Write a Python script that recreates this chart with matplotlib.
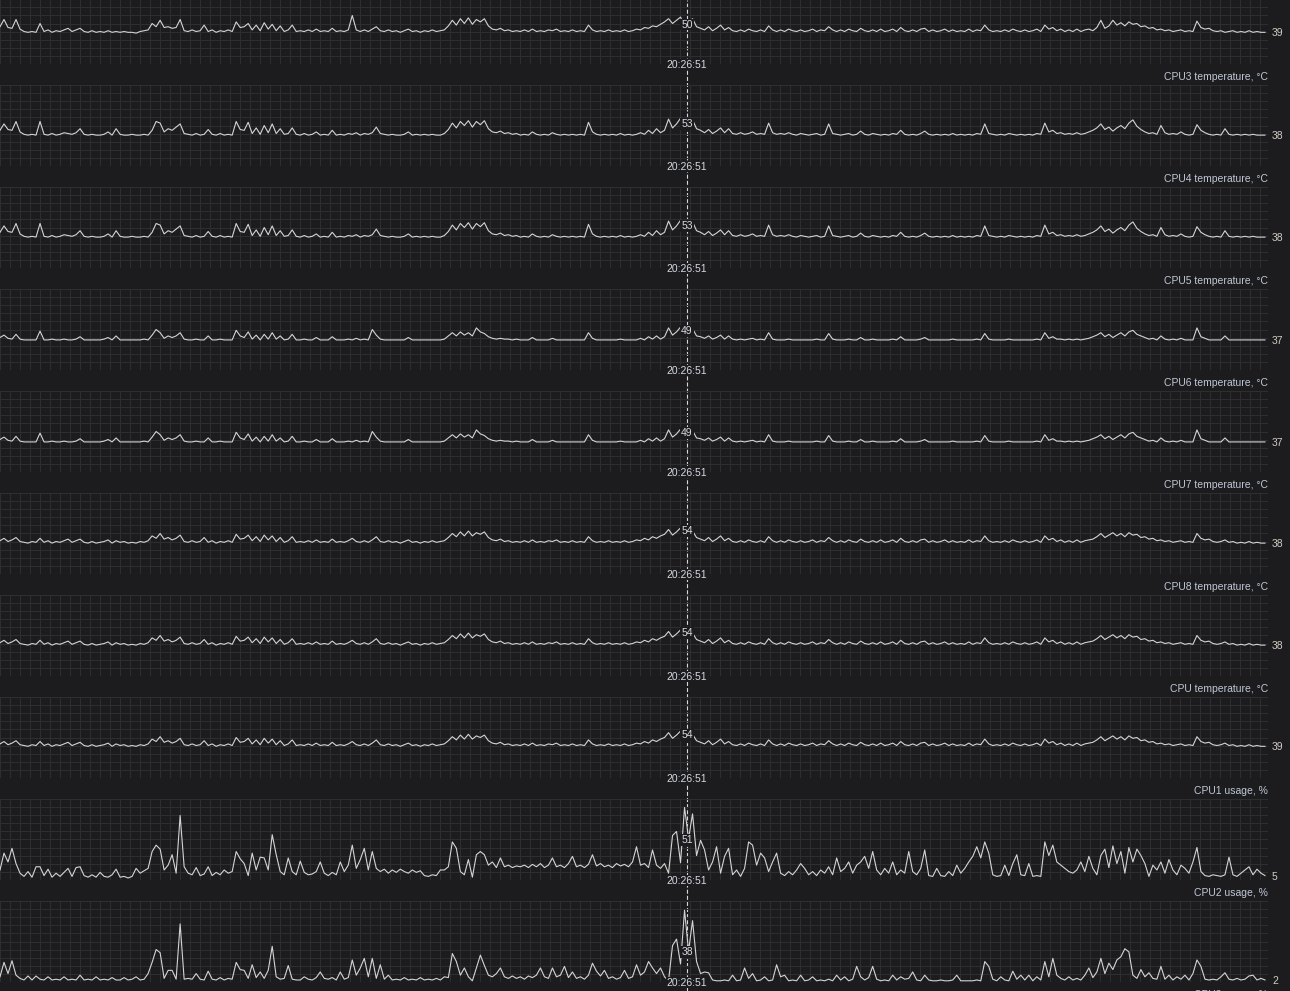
import numpy as np
import matplotlib
matplotlib.use("Agg")
import matplotlib.pyplot as plt
from matplotlib.lines import Line2D

plt.rcParams['font.family'] = ['Liberation Sans', 'DejaVu Sans']
plt.rcParams['lines.scale_dashes'] = False

# ---------------- data (one sample every ~4 px of the time axis) ----------------
cpu2_temp = [46,55,45,44,55,43,40,39,40,39,
 50,40,42,39,41,40,42,44,40,42,
 44,40,39,41,39,40,39,41,39,40,
 39,40,39,39,38,40,41,42,50,46,
 54,45,46,44,45,55,41,40,42,40,
 41,48,40,42,39,41,40,42,40,52,
 45,46,50,42,48,41,51,43,49,41,
 47,40,42,48,40,41,40,42,40,43,
 40,41,40,44,40,41,40,42,60,42,
 40,42,40,43,46,41,40,42,40,41,
 39,41,43,40,41,39,41,40,42,40,
 41,42,47,54,48,56,50,57,49,55,
 52,56,47,43,42,44,41,42,40,41,
 40,42,40,43,40,41,40,42,41,43,
 40,41,40,42,40,41,40,48,42,40,
 41,40,42,40,41,40,42,40,41,43,
 42,45,44,47,46,49,52,56,50,54,
 58,47,50,56,46,44,42,46,41,44,
 48,42,45,41,40,42,40,43,41,40,
 42,40,47,42,40,42,40,43,41,40,
 42,40,41,43,40,42,41,46,42,40,
 42,40,43,41,40,44,41,40,42,40,
 43,40,41,43,40,45,41,40,42,40,
 43,44,40,42,40,41,43,40,42,40,
 41,40,43,40,42,41,48,42,40,41,
 40,42,40,43,41,40,42,40,41,43,
 40,48,43,45,41,43,40,42,40,43,
 40,42,43,41,45,54,44,47,54,48,
 51,47,52,49,50,46,47,44,45,42,
 43,41,42,40,41,42,40,41,40,53,
 45,43,44,41,40,41,39,40,41,39,
 40,39,41,39,40,39,39]

cpu3_temp = [44,52,45,44,55,42,39,38,39,38,
 55,39,38,40,38,39,41,40,39,41,
 46,39,38,39,38,38,39,42,38,46,
 39,38,38,39,38,38,39,38,44,55,
 53,42,46,44,48,52,40,39,38,40,
 38,39,45,39,38,40,38,39,38,55,
 45,44,54,40,47,39,50,41,52,40,
 46,39,40,47,39,38,40,38,39,42,
 38,39,38,44,38,39,38,40,39,41,
 38,40,39,41,48,40,39,38,39,38,
 38,39,42,38,39,38,39,38,39,38,
 38,40,45,53,47,55,50,56,48,55,
 51,56,46,42,41,43,40,41,39,40,
 38,39,38,42,39,38,39,38,41,39,
 38,39,38,39,38,39,38,54,42,39,
 38,39,38,39,38,40,38,39,38,39,
 41,39,44,40,46,41,44,58,47,52,
 59,48,53,57,46,44,41,45,40,43,
 47,41,46,40,39,41,39,40,42,39,
 40,39,53,41,39,40,39,41,39,38,
 40,39,38,39,40,38,39,52,40,39,
 38,39,40,38,39,43,39,38,40,39,
 38,39,38,40,39,44,39,38,39,38,
 40,43,39,38,39,38,39,38,40,38,
 39,38,39,38,40,39,52,40,39,38,
 39,38,40,39,38,39,38,39,38,40,
 39,53,42,44,40,41,39,40,39,41,
 39,40,42,44,47,52,45,48,43,47,
 50,46,53,57,49,45,42,40,41,39,
 50,41,39,40,39,42,39,38,39,51,
 44,41,39,38,39,38,46,39,38,39,
 38,39,38,39,38,38,38]
cpu4_temp = list(cpu3_temp)

cpu5_temp = [40,43,39,38,44,38,37,37,37,37,
 48,37,37,38,37,37,38,37,37,38,
 41,37,37,37,37,37,38,40,37,42,
 37,37,37,37,37,37,38,37,43,50,
 46,39,42,40,42,46,38,37,37,38,
 37,37,42,37,37,38,37,37,37,49,
 42,40,47,38,43,37,44,38,46,38,
 42,37,38,44,37,37,38,37,37,40,
 37,37,37,41,37,37,37,38,37,39,
 37,38,37,50,43,38,37,37,37,37,
 37,37,40,37,37,37,37,37,37,37,
 37,38,42,46,42,47,43,46,42,52,
 47,45,41,39,38,39,38,38,37,38,
 37,37,37,40,37,37,37,37,39,37,
 37,37,37,37,37,37,37,46,39,37,
 37,37,37,37,37,38,37,37,37,37,
 39,37,41,38,42,38,41,52,43,47,
 53,44,49,51,42,41,39,42,38,40,
 43,38,42,38,37,38,37,38,39,37,
 38,37,46,38,37,37,37,38,37,37,
 37,37,37,37,38,37,37,45,38,37,
 37,37,38,37,37,40,37,37,38,37,
 37,37,37,38,37,41,37,37,37,37,
 38,40,37,37,37,37,37,37,38,37,
 37,37,37,37,38,37,45,38,37,37,
 37,37,38,37,37,37,37,37,37,38,
 37,46,39,41,38,38,37,38,37,38,
 37,38,39,41,43,46,41,44,40,43,
 46,42,47,49,44,42,40,38,39,37,
 42,38,37,38,37,39,37,37,37,52,
 41,39,37,37,37,37,42,37,37,37,
 37,37,37,37,37,37,37]
cpu6_temp = list(cpu5_temp)

cpu7_temp = [41,44,40,42,45,40,39,38,40,39,
 44,39,41,38,40,39,41,43,39,41,
 43,39,38,40,38,39,40,42,38,41,
 39,40,38,39,38,40,39,41,47,44,
 50,43,45,42,44,48,40,39,41,39,
 40,45,39,41,38,40,39,41,39,49,
 43,44,48,41,46,40,48,42,47,40,
 45,39,41,46,39,40,39,41,39,42,
 39,40,39,43,39,40,39,41,44,40,
 39,41,39,42,46,40,39,41,39,40,
 38,40,42,39,40,38,40,39,41,39,
 40,41,45,50,46,52,47,53,47,51,
 49,52,45,42,41,43,40,41,39,40,
 39,41,39,42,39,40,39,41,40,42,
 39,40,39,41,39,40,39,46,41,39,
 40,39,41,39,40,39,41,39,40,42,
 41,44,42,46,44,47,49,55,48,52,
 57,46,54,53,45,43,41,45,40,43,
 47,41,44,40,39,41,39,42,40,39,
 41,39,46,41,39,41,39,42,40,39,
 41,39,40,42,39,41,40,45,41,39,
 41,39,42,40,39,43,40,39,41,39,
 42,39,40,42,39,44,40,39,41,39,
 42,43,39,41,39,40,42,39,41,39,
 40,39,42,39,41,40,47,41,39,40,
 39,41,39,42,40,39,41,39,40,42,
 39,47,42,44,40,42,39,41,39,42,
 39,41,42,43,46,50,45,48,51,47,
 50,46,51,48,49,45,46,43,44,41,
 42,40,41,39,40,41,39,40,39,50,
 44,42,43,40,39,40,42,39,40,38,
 39,38,40,38,39,38,38]
cpu8_temp = list(cpu7_temp)

cpu_temp = [42,45,41,43,46,41,40,39,41,40,
 45,40,42,39,41,40,42,44,40,42,
 44,40,39,41,39,40,41,43,39,42,
 40,41,39,40,39,41,40,42,48,45,
 51,44,46,43,45,49,41,40,42,40,
 41,46,40,42,39,41,40,42,40,50,
 44,45,49,42,47,41,49,43,48,41,
 46,40,42,47,40,41,40,42,40,43,
 40,41,40,44,40,41,40,42,45,41,
 40,42,40,43,47,41,40,42,40,41,
 39,41,43,40,41,39,41,40,42,40,
 41,42,46,51,47,53,48,54,48,52,
 50,53,46,43,42,44,41,42,40,41,
 40,42,40,43,40,41,40,42,41,43,
 40,41,40,42,40,41,40,47,42,40,
 41,40,42,40,41,40,42,40,41,43,
 42,45,43,47,45,48,50,56,49,53,
 58,47,54,54,46,44,42,46,41,44,
 48,42,45,41,40,42,40,43,41,40,
 42,40,47,42,40,42,40,43,41,40,
 42,40,41,43,40,42,41,46,42,40,
 42,40,43,41,40,44,41,40,42,40,
 43,40,41,43,40,45,41,40,42,40,
 43,44,40,42,40,41,43,40,42,40,
 41,40,43,40,42,41,48,42,40,41,
 40,42,40,43,41,40,42,40,41,43,
 40,48,43,45,41,43,40,42,40,43,
 40,42,43,44,47,51,46,49,52,48,
 51,47,52,49,50,46,47,44,45,42,
 43,41,42,40,41,42,40,41,40,51,
 45,43,44,41,40,41,43,40,41,39,
 40,39,41,39,40,39,39]

cpu1_usage = [12,33,22,39,20,8,4,10,3,16,
 16,5,13,3,8,4,9,14,4,15,
 16,5,3,6,3,9,4,3,6,13,
 3,4,2,4,14,8,11,14,35,43,
 38,12,18,31,8,80,16,8,6,15,
 5,7,16,5,9,6,12,8,10,35,
 26,20,5,33,12,28,27,12,56,31,
 10,6,27,10,6,23,9,6,7,10,
 22,8,5,9,6,22,10,18,43,14,
 25,39,12,35,14,10,13,8,12,9,
 13,10,8,12,9,11,5,4,6,5,
 12,12,16,47,39,10,6,25,3,31,
 35,31,18,22,15,27,16,18,15,17,
 16,18,15,19,16,20,15,18,27,16,
 18,15,20,29,16,18,15,19,31,17,
 20,16,18,15,20,17,19,16,22,41,
 18,20,15,37,18,14,20,8,55,60,
 21,90,51,82,30,49,37,12,22,41,
 8,29,39,6,12,4,14,47,43,18,
 33,27,10,22,33,8,5,10,6,12,
 20,14,6,10,5,12,8,16,6,27,
 10,14,22,8,18,22,29,14,35,12,
 6,14,8,22,6,12,8,35,10,6,
 14,37,5,4,14,5,4,10,5,18,
 8,14,22,29,41,27,47,33,6,4,
 5,18,5,20,31,6,5,20,4,5,
 4,47,30,43,22,18,14,10,8,12,
 22,10,29,14,6,30,38,15,42,20,
 35,8,40,22,38,30,20,4,18,12,
 22,8,25,12,6,18,14,8,22,40,
 10,5,4,6,5,4,6,28,6,4,
 8,12,16,6,13,8,5]

cpu2_usage = [6,24,10,26,8,4,2,7,2,7,
 3,2,6,2,3,2,6,2,3,2,
 8,2,3,2,6,2,3,2,5,2,
 2,5,2,3,6,2,3,10,24,40,
 36,4,14,14,3,72,3,4,3,10,
 3,2,13,3,2,5,2,4,3,24,
 15,14,4,21,5,12,4,14,44,6,
 3,4,20,3,2,2,6,3,2,5,
 12,4,3,5,2,12,3,5,27,8,
 17,29,6,29,4,21,3,8,2,3,
 2,5,2,3,2,5,2,3,2,4,
 2,6,5,35,25,8,17,6,1,17,
 33,20,8,6,10,17,6,4,7,4,
 6,3,7,5,8,17,6,4,17,6,
 8,19,5,12,4,6,3,8,23,13,
 7,14,4,6,3,5,14,4,6,21,
 8,12,25,17,10,17,6,1,45,53,
 22,89,38,76,25,10,12,11,2,1,
 1,2,1,8,1,2,17,4,10,1,
 2,6,1,2,21,6,8,1,2,1,
 8,1,2,6,1,2,1,3,1,8,
 2,6,1,3,19,6,2,5,19,3,
 1,2,1,8,2,6,3,4,12,2,
 1,8,2,1,1,2,1,1,2,8,
 1,1,1,1,2,1,25,19,3,1,
 6,2,1,13,3,8,2,8,1,6,
 2,25,6,29,8,4,2,6,2,4,
 2,8,17,5,12,29,10,23,15,27,
 31,41,37,8,4,15,6,11,4,3,
 19,3,8,2,6,3,8,2,10,27,
 19,3,2,3,2,6,11,3,2,4,
 2,3,7,8,2,4,2]

panel_titles = ["CPU2 temperature, °C", "CPU3 temperature, °C", "CPU4 temperature, °C",
                "CPU5 temperature, °C", "CPU6 temperature, °C", "CPU7 temperature, °C",
                "CPU8 temperature, °C", "CPU temperature, °C", "CPU1 usage, %",
                "CPU2 usage, %"]
next_title = "CPU3 usage, %"
series = [cpu2_temp, cpu3_temp, cpu4_temp, cpu5_temp, cpu6_temp, cpu7_temp,
          cpu8_temp, cpu_temp, cpu1_usage, cpu2_usage]
cursor_values = [50, 53, 53, 49, 49, 54, 54, 54, 51, 38]
cursor_time = "20:26:51"

# ---------------- style / layout ----------------
BG = '#1c1c1e'
GRID = '#2e2e31'
LINE = '#d4d4d4'
TITLE_C = '#bfc8d6'
VALUE_C = '#d2cbc2'
LABEL_C = '#d6dae2'
FS = 7.5

W, H = 1290, 991
PLOT_W = 1268
PANEL_H = 81
PITCH = 102
FIRST_TOP = -17
CURSOR_X = 687

fig = plt.figure(figsize=(W / 100, H / 100), dpi=100, facecolor=BG)

fig.add_artist(Line2D([CURSOR_X / W, CURSOR_X / W], [0, 1], transform=fig.transFigure,
                      color='#d8d8d8', lw=0.8, linestyle=(0, (2.9, 1.5)), zorder=-1))

box = dict(boxstyle='square,pad=0.08', fc=BG, ec='none')

for k, (vals, title, cval) in enumerate(zip(series, panel_titles, cursor_values)):
    top = FIRST_TOP + k * PITCH
    bottom = top + PANEL_H
    ax = fig.add_axes([0, 1 - bottom / H, PLOT_W / W, PANEL_H / H])
    ax.set_facecolor('none')
    ax.set_xlim(0, PLOT_W)
    ax.set_ylim(-0.5, 100.5)
    ax.set_xticks(np.arange(0, PLOT_W + 1, 10))
    ax.set_yticks(np.arange(0, 101, 10))
    ax.grid(True, color=GRID, lw=0.8)
    ax.set_axisbelow(True)
    ax.tick_params(length=0, labelbottom=False, labelleft=False)
    for s in ax.spines.values():
        s.set_visible(False)

    x = np.linspace(0, PLOT_W - 3, len(vals))
    ax.plot(x, vals, color=LINE, lw=0.8, zorder=3)

    ax.text(1 + 4 / PLOT_W, vals[-1], str(vals[-1]), transform=ax.get_yaxis_transform(),
            ha='left', va='center_baseline', color=VALUE_C, fontsize=FS, clip_on=False)
    if top - 5 > 0:  # the title above the first panel lies outside the picture
        ax.text(1.0, (PANEL_H + 5) / PANEL_H, title, transform=ax.transAxes,
                ha='right', va='baseline', color=TITLE_C, fontsize=FS, clip_on=False)
    ax.text(CURSOR_X, cval, str(cval), ha='center', va='center_baseline',
            color=LABEL_C, fontsize=FS, bbox=box, zorder=5, clip_on=False)
    ax.text(CURSOR_X, 0, cursor_time, ha='center', va='center_baseline',
            color=LABEL_C, fontsize=FS, bbox=box, zorder=5, clip_on=False)

last_top = FIRST_TOP + len(series) * PITCH
fig.text(PLOT_W / W, 1 - (last_top - 5) / H, next_title, ha='right', va='baseline',
         color=TITLE_C, fontsize=FS)

fig.savefig('out.png', dpi=100, facecolor=BG)
